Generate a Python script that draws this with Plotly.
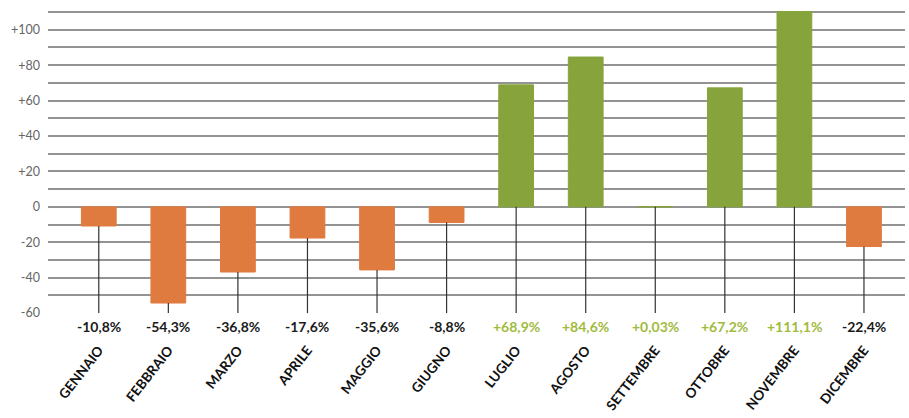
import plotly.graph_objects as go

months = ["GENNAIO", "FEBBRAIO", "MARZO", "APRILE", "MAGGIO", "GIUGNO",
          "LUGLIO", "AGOSTO", "SETTEMBRE", "OTTOBRE", "NOVEMBRE", "DICEMBRE"]
values = [-10.8, -54.3, -36.8, -17.6, -35.6, -8.8, 68.9, 84.6, 0.03, 67.2, 111.1, -22.4]
labels = ["-10,8%", "-54,3%", "-36,8%", "-17,6%", "-35,6%", "-8,8%",
          "+68,9%", "+84,6%", "+0,03%", "+67,2%", "+111,1%", "-22,4%"]
ytickvals = [-60, -40, -20, 0, 20, 40, 60, 80, 100]
yticktext = ["-60", "-40", "-20", "0", "+20", "+40", "+60", "+80", "+100"]

ORANGE = "#e07b3f"
GREEN = "#86a43b"
LABEL_GREEN = "#9fbb3c"
YMIN = -60

colors = [GREEN if v >= 0 else ORANGE for v in values]

fig = go.Figure()

# thin stems from bar end down to the axis
sx, sy = [], []
for m, v in zip(months, values):
    sx += [m, m, None]
    sy += [min(v, 0), YMIN, None]
fig.add_trace(go.Scatter(x=sx, y=sy, mode="lines",
                         line=dict(color="#333333", width=1.2),
                         hoverinfo="skip", showlegend=False))

fig.add_trace(go.Bar(x=months, y=values, width=0.5,
                     marker=dict(color=colors, line=dict(color=colors, width=1)),
                     showlegend=False))

for m, v, t in zip(months, values, labels):
    fig.add_annotation(x=m, y=YMIN, text="<b>" + t + "</b>", showarrow=False,
                       yanchor="top", yshift=-3,
                       font=dict(family="Lato, sans-serif", size=14,
                                 color=LABEL_GREEN if v >= 0 else "#1a1a1a"))

fig.update_layout(
    width=909, height=418,
    margin=dict(l=48, r=4, t=11, b=104),
    plot_bgcolor="white", paper_bgcolor="white",
    bargap=0.5,
    xaxis=dict(type="category", range=[-0.73, 11.59], automargin=False,
               tickangle=-52, ticks="outside", ticklen=22,
               tickcolor="rgba(0,0,0,0)", showgrid=False, zeroline=False,
               showline=False,
               tickfont=dict(family="Lato, sans-serif", size=13.5, color="#111",
                             weight="bold")),
    yaxis=dict(range=[-60.5, 110.6], tickvals=ytickvals, ticktext=yticktext,
               automargin=False,
               showgrid=True, gridcolor="#939393", gridwidth=1.6,
               zeroline=True, zerolinecolor="#939393", zerolinewidth=1.6,
               showline=False, ticks="", ticklabelstandoff=7,
               tickfont=dict(family="Lato, sans-serif", size=12.5, color="#666"),
               minor=dict(dtick=10, tick0=0, showgrid=True,
                          gridcolor="#939393", gridwidth=1.6)),
)

fig.write_html("out.html")
